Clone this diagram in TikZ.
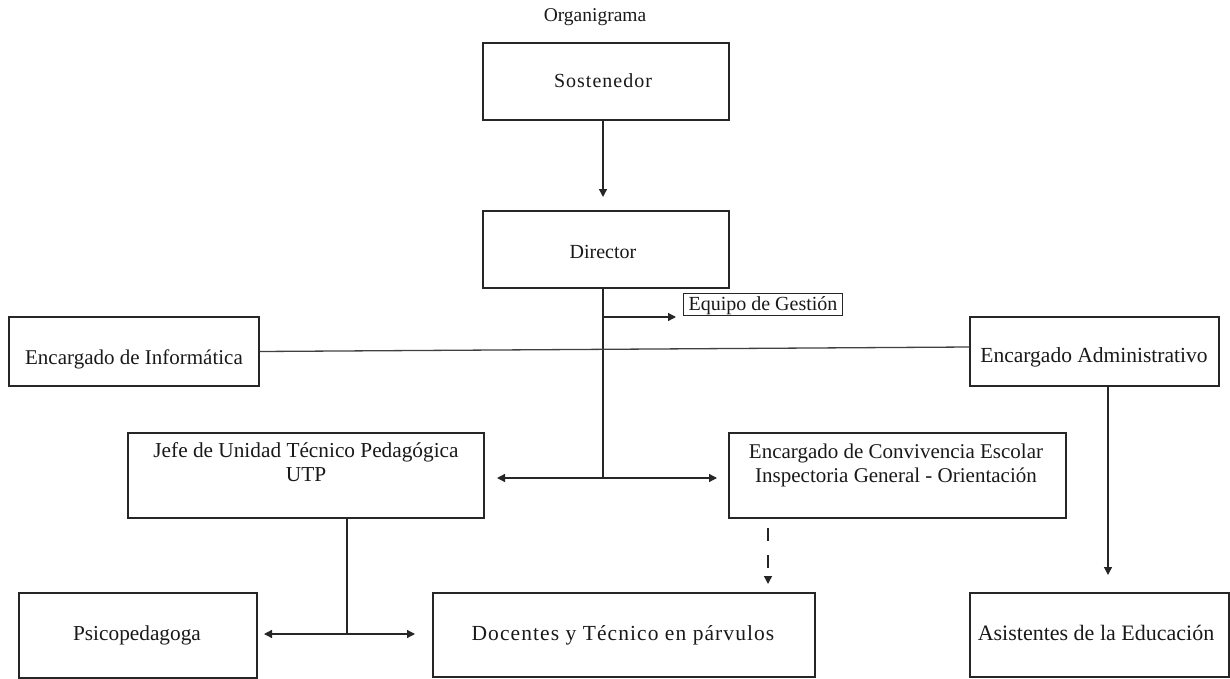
\documentclass[tikz,border=0pt]{standalone}
\usepackage{fontspec}
\setmainfont{Liberation Serif}
\usetikzlibrary{arrows.meta}
\begin{document}
\begin{tikzpicture}[x=1pt,y=-1pt,
  box/.style={draw=black!85,line width=1.3pt,rectangle,inner sep=0pt},
  txt/.style={anchor=base,inner sep=0pt,text=black!90,font=\fontsize{#1}{#1}\selectfont},
  txt/.default=21,
  wide/.style={font=\fontsize{#1}{#1}\selectfont\addfontfeature{LetterSpace=5}},
  conn/.style={draw=black!85,line width=1.3pt},
  arr/.style={conn,-{Triangle[length=8pt,width=8pt]}},
  darr/.style={conn,{Triangle[length=8pt,width=8pt]}-{Triangle[length=8pt,width=8pt]}}]
\useasboundingbox (0,0) rectangle (1230,679);
% title
\node[txt=19.5] (title) at (595,22) {Organigrama};
% boxes
\node[box,minimum width=246pt,minimum height=77pt] (sost) at (606,81.5) {};
\node[txt,wide=20] (sostT) at (603,88) {Sostenedor};
\node[box,minimum width=246pt,minimum height=77pt] (dir) at (606,249.5) {};
\node[txt=20] (dirT) at (603,258) {Director};
\node[box,line width=1pt,minimum width=159pt,minimum height=22pt] (eq) at (763,304) {};
\node[txt=20] (eqT) at (763,310) {Equipo de Gestión};
\node[box,minimum width=250pt,minimum height=69pt] (inf) at (134,351.5) {};
\node[txt=21] (infT) at (134,364) {Encargado de Informática};
\node[box,minimum width=249pt,minimum height=69pt] (adm) at (1094.5,351.5) {};
\node[txt=21.5] (admT) at (1094,362) {Encargado Administrativo};
\node[box,minimum width=356pt,minimum height=85pt] (utp) at (306,475.5) {};
\node[txt=21.3] (utpT1) at (306,457) {Jefe de Unidad Técnico Pedagógica};
\node[txt=21.3] (utpT2) at (306,481) {UTP};
\node[box,minimum width=337pt,minimum height=85pt] (conv) at (897.5,475.5) {};
\node[txt=21] (convT1) at (896,458) {Encargado de Convivencia Escolar};
\node[txt=21] (convT2) at (896,482) {Inspectoria General - Orientación};
\node[box,minimum width=238pt,minimum height=85pt] (psi) at (138,635.5) {};
\node[txt=21.3] (psiT) at (137,640) {Psicopedagoga};
\node[box,minimum width=382pt,minimum height=84pt] (doc) at (624,635) {};
\node[txt,wide=21.5] (docT) at (623,640) {Docentes y Técnico en párvulos};
\node[box,minimum width=259pt,minimum height=84pt] (asi) at (1099.5,635) {};
\node[txt=22] (asiT) at (1096,640) {Asistentes de la Educación};
% connector points
\coordinate (t1) at (603,197);
\coordinate (j1) at (603,317);
\coordinate (e1) at (676,317);
\coordinate (j2) at (603,478);
\coordinate (l2) at (497,478);
\coordinate (r2) at (717,478);
\coordinate (u1) at (347,634);
\coordinate (ul) at (264,634);
\coordinate (ur) at (415,634);
\coordinate (d0) at (768,528);
\coordinate (d1) at (768,584);
\coordinate (a1) at (1108,575);
% connectors
\draw[arr] ([xshift=-3pt]sost.south) -- (t1);
\draw[conn] ([xshift=-3pt]dir.south) -- (j2);
\draw[arr] (j1) -- (e1);
\draw[arr] (j2) -- (l2);
\draw[arr] (j2) -- (r2);
\draw[conn,draw=black!75] (inf.east) -- ([yshift=4.5pt]adm.west);
\draw[conn] (utp.south -| u1) -- (u1);
\draw[arr] (u1) -- (ul);
\draw[arr] (u1) -- (ur);
\draw[arr,dash pattern=on 13pt off 14pt] (d0) -- (d1);
\draw[arr] (adm.south -| a1) -- (a1);
\end{tikzpicture}
\end{document}
